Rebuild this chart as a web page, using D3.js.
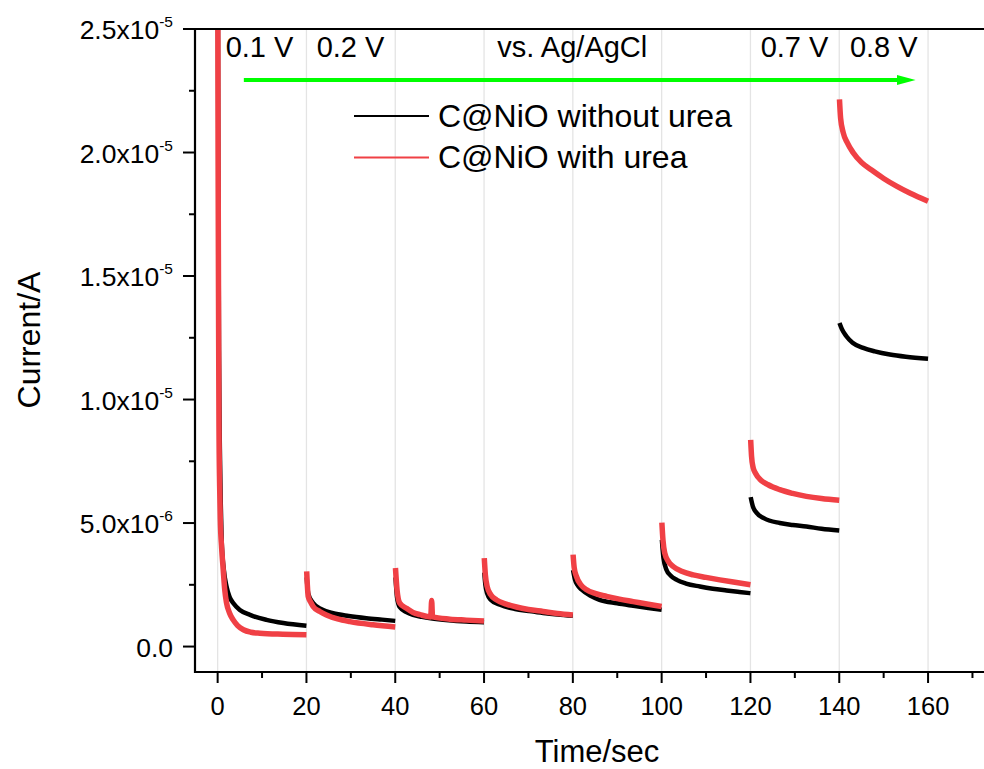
<!DOCTYPE html>
<html><head><meta charset="utf-8">
<script src="https://cdn.jsdelivr.net/npm/d3@7"></script>
<style>body{margin:0;background:#fff}svg{display:block;font-family:"Liberation Sans",Arial,sans-serif}</style>
</head><body>
<svg id="c" width="984" height="769"></svg>
<script>
// Time (s) and current (in units of 1e-6 A); each 20 s step is a separate potential step
const timeWithout = [0,0.15,0.3,0.5,0.7,0.9,1.4,2.0,2.7,3.5,5,7.3,11,14.8,20,
  20.05,20.4,21.5,23.5,26,29.5,33.5,37,40,
  40.05,40.4,41,42.5,44,46,48,52,56,60,
  60.05,60.3,60.7,61.5,63.6,67,70,73.3,76.5,80,
  80.05,80.5,81,82,84,86,90,93.6,97,100,
  100.05,100.4,101.1,102,103.4,105.5,108.6,111.5,114.6,117.5,120,
  120.05,120.5,121.4,123,126.6,129.5,132.6,136,140,
  140.05,140.6,141.6,143,145.4,148,151.4,155,160];
const currentWithout = [30,20,12,8,5.8,4.32,3.1,2.43,2.0,1.76,1.48,1.28,1.08,0.95,0.84,
  2.8,2.15,1.76,1.5,1.35,1.24,1.15,1.09,1.04,
  2.8,2.0,1.6,1.4,1.28,1.2,1.14,1.06,1.01,0.98,
  3.0,2.5,2.15,1.9,1.69,1.52,1.44,1.36,1.3,1.25,
  3.1,2.7,2.5,2.3,2.05,1.89,1.75,1.65,1.56,1.49,
  4.32,3.6,3.1,2.88,2.7,2.55,2.43,2.34,2.27,2.21,2.16,
  6.05,5.7,5.41,5.2,5.0,4.92,4.86,4.77,4.7,
  13.1,12.85,12.56,12.3,12.09,11.95,11.82,11.73,11.65];
const timeWith = [0,0.1,0.2,0.3,0.45,0.6,0.9,1.26,1.6,2,2.7,3.5,4.5,5.8,7.5,9.5,14.7,20,
  20.05,20.2,20.4,21,21.5,23,24.5,27,29.8,35,40,
  40.05,40.4,41,42.5,44,45.6,48,48.2,48.4,52.3,56,60,
  60.05,60.3,60.7,61.5,62.8,65,67.3,70,73.3,76.5,80,
  80.05,80.3,80.8,81.8,83.1,85,87.6,90.5,93.6,97,100,
  100.05,100.3,100.7,101.5,102.6,104.5,107.1,110,113.1,116.5,120,
  120.05,120.25,120.6,121.2,122.1,124,126.6,129.5,132.6,136,140,
  140.05,140.3,140.9,141.8,143.1,145,147.6,150,152.9,156,160];
const currentWith = [30,20,14,9,6.5,5.13,4.0,3.1,2.3,1.77,1.35,1.08,0.85,0.68,0.58,0.54,0.5,0.48,
  3.04,2.5,2.03,1.78,1.62,1.42,1.28,1.12,1.01,0.88,0.79,
  3.18,2.3,1.76,1.55,1.38,1.29,1.2,1.86,1.2,1.11,1.07,1.03,
  3.58,2.9,2.43,2.1,1.89,1.72,1.6,1.5,1.42,1.34,1.28,
  3.72,3.2,2.84,2.5,2.3,2.15,2.03,1.92,1.82,1.71,1.62,
  5.02,4.3,3.78,3.45,3.24,3.05,2.9,2.8,2.7,2.6,2.5,
  8.37,7.7,7.25,7.0,6.78,6.55,6.35,6.2,6.08,5.99,5.92,
  22.15,21.4,20.8,20.4,20.0,19.6,19.25,18.95,18.64,18.35,18.03];
const seriesNames = ["C@NiO without urea","C@NiO with urea"];
const stepLength = 20;
const xTicks = [0,20,40,60,80,100,120,140,160];
const xMinorTicks = [10,30,50,70,90,110,130,150,170];
const yTicks = [0,5e-6,1e-5,1.5e-5,2e-5,2.5e-5];
const yMinorTicks = [2.5e-6,7.5e-6,1.25e-5,1.75e-5,2.25e-5];
const yTickMantissa = ["0.0","5.0","1.0","1.5","2.0","2.5"];
const yTickExp = ["","-6","-5","-5","-5","-5"];
const potentialLabels = [{t:1.8,txt:"0.1 V"},{t:22.3,txt:"0.2 V"},{t:63,txt:"vs. Ag/AgCl"},{t:122.3,txt:"0.7 V"},{t:142.4,txt:"0.8 V"}];

const svg = d3.select("#c");
const L=195, R=984, T=29, B=672;
const x = d3.scaleLinear().domain([-5.1,172.6]).range([L,R]);
const y = d3.scaleLinear().domain([-1.03e-6,2.5e-5]).range([B,T]);

svg.append("defs").append("clipPath").attr("id","clip")
  .append("rect").attr("x",L).attr("y",T).attr("width",R-L).attr("height",B-T);

// grid
svg.append("g").selectAll("line").data(xTicks).join("line")
  .attr("x1",d=>x(d)).attr("x2",d=>x(d)).attr("y1",T).attr("y2",B)
  .attr("stroke","#e4e4e4").attr("stroke-width",1.3);

const stepOf = t => (t>0 && t%stepLength===0) ? t/stepLength-1 : Math.floor(t/stepLength);
const segments = (ts,cs)=>Array.from(d3.group(ts.map((t,i)=>[t,cs[i]*1e-6]), d=>stepOf(d[0])).values());
const line = d3.line().x(d=>x(d[0])).y(d=>y(d[1])).curve(d3.curveMonotoneX);
const g = svg.append("g").attr("clip-path","url(#clip)");
g.append("g").selectAll("path").data(segments(timeWithout,currentWithout)).join("path")
  .attr("d",line).attr("fill","none").attr("stroke","#000").attr("stroke-width",4.5).attr("stroke-linejoin","round");
g.append("g").selectAll("path").data(segments(timeWith,currentWith)).join("path")
  .attr("d",line).attr("fill","none").attr("stroke","#f04045").attr("stroke-width",5.5).attr("stroke-linejoin","round");

// axes
const ax = svg.append("g");
ax.append("line").attr("x1",L).attr("x2",R).attr("y1",B).attr("y2",B).attr("stroke","#000").attr("stroke-width",2.2);
ax.append("line").attr("x1",L).attr("x2",R).attr("y1",T).attr("y2",T).attr("stroke","#000").attr("stroke-width",2.2);
ax.append("line").attr("x1",L).attr("x2",L).attr("y1",T-1).attr("y2",B+1).attr("stroke","#000").attr("stroke-width",2.2);
ax.selectAll(".xt").data(xTicks).join("line")
  .attr("x1",d=>x(d)).attr("x2",d=>x(d)).attr("y1",B).attr("y2",B+11).attr("stroke","#000").attr("stroke-width",2);
ax.selectAll(".xm").data(xMinorTicks).join("line")
  .attr("x1",d=>x(d)).attr("x2",d=>x(d)).attr("y1",B).attr("y2",B+6).attr("stroke","#000").attr("stroke-width",2);
ax.selectAll(".yt").data(yTicks).join("line")
  .attr("x1",L-12).attr("x2",L).attr("y1",d=>y(d)).attr("y2",d=>y(d)).attr("stroke","#000").attr("stroke-width",2);
ax.selectAll(".ym").data(yMinorTicks).join("line")
  .attr("x1",L-6).attr("x2",L).attr("y1",d=>y(d)).attr("y2",d=>y(d)).attr("stroke","#000").attr("stroke-width",2);

ax.selectAll(".xl").data(xTicks).join("text")
  .attr("x",d=>x(d)).attr("y",B+43).attr("text-anchor","middle").attr("font-size",25.5).text(d=>d);

yTicks.forEach((v,i)=>{
  const t = ax.append("text").attr("x",173).attr("y",y(v)+10).attr("text-anchor","end").attr("font-size",26.5);
  if(yTickExp[i]===""){ t.text(yTickMantissa[i]); }
  else {
    t.append("tspan").text(yTickMantissa[i]+"x10");
    t.append("tspan").attr("font-size",15.5).attr("dy",-12).text(yTickExp[i]);
  }
});

svg.append("text").attr("x",597).attr("y",762).attr("text-anchor","middle").attr("font-size",31).text("Time/sec");
svg.append("text").attr("transform","translate(40,340) rotate(-90)").attr("text-anchor","middle").attr("font-size",32).text("Current/A");

// annotations
svg.selectAll(".pl").data(potentialLabels).join("text")
  .attr("x",d=>x(d.t)).attr("y",57).attr("font-size",29).text(d=>d.txt);
const ay = 80;
svg.append("line").attr("x1",x(5.9)).attr("x2",x(153.5)).attr("y1",ay).attr("y2",ay).attr("stroke","#00ff00").attr("stroke-width",4);
svg.append("path").attr("d",`M${x(153)},${ay-5}L${x(157.2)},${ay}L${x(153)},${ay+5}Z`).attr("fill","#00ff00");

// legend
const lg = svg.append("g");
[["#000",116,127],["#f04045",157.5,168]].forEach((c,i)=>{
  lg.append("line").attr("x1",354).attr("x2",429).attr("y1",c[1]).attr("y2",c[1]).attr("stroke",c[0]).attr("stroke-width",2);
  lg.append("text").attr("x",438).attr("y",c[2]).attr("font-size",32).text(seriesNames[i]);
});
</script>
</body></html>
